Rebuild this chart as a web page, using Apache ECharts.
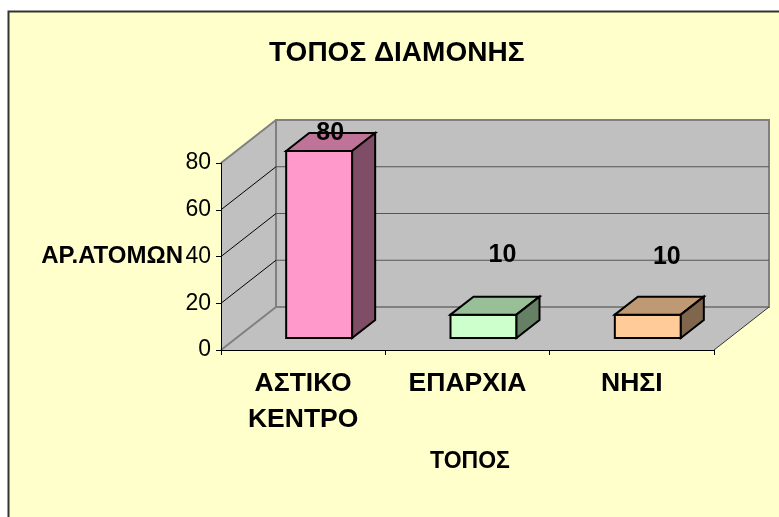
<!DOCTYPE html>
<html>
<head>
<meta charset="utf-8">
<style>
  html, body { margin: 0; padding: 0; background: #fff; }
  #chart { width: 779px; height: 517px; }
</style>
</head>
<body>
<div id="chart"></div>
<script src="https://cdn.jsdelivr.net/npm/echarts@6/dist/echarts.min.js"></script>
<script>
const categories = ['ΑΣΤΙΚΟ\nΚΕΝΤΡΟ', 'ΕΠΑΡΧΙΑ', 'ΝΗΣΙ']
const values = [80, 10, 10]
const yTicks = [0, 20, 40, 60, 80]

// front, top, side
const barColors = [
  ['#FF99CC', '#BF7399', '#804D66'],
  ['#CCFFCC', '#99BF99', '#668066'],
  ['#FFCC99', '#BF9973', '#80664D']
]
const labelNudge = [[11, -30], [19, -72], [19, -70]]

const font = 'Liberation Sans, Arial, sans-serif'
const wallDepth = [55, -43]
const barDepth = [23, -18]
const barLift = [16, -12]
const barHalf = 33

const chart = echarts.init(document.getElementById('chart'))

function poly(points, fill, stroke, lineWidth) {
  return {
    type: 'polygon',
    shape: { points },
    style: { fill: fill, stroke: stroke || 'none', lineWidth: lineWidth || 0 }
  }
}

function seg(x1, y1, x2, y2, stroke, lineWidth) {
  return {
    type: 'line',
    shape: { x1, y1, x2, y2 },
    style: { stroke, lineWidth }
  }
}

// walls and floor of the 3d box, only once for the first tick
function renderWalls(params, api) {
  const v = api.value(0)
  const rect = params.coordSys
  const left = rect.x
  const right = rect.x + rect.width
  const y = api.coord([0, v])[1]
  const dx = wallDepth[0]
  const dy = wallDepth[1]
  const children = []
  if (v === 0) {
    const top = rect.y
    const bottom = rect.y + rect.height
    children.push(poly([[left, bottom], [left + dx, bottom + dy], [right + dx, bottom + dy], [right, bottom]], '#C0C0C0'))
    children.push(poly([[left, top], [left + dx, top + dy], [left + dx, bottom + dy], [left, bottom]], '#C0C0C0'))
    children.push(poly([[left + dx, top + dy], [right + dx, top + dy], [right + dx, bottom + dy], [left + dx, bottom + dy]], '#C0C0C0', '#808080', 2))
    children.push(seg(right, bottom, right + dx, bottom + dy, '#333', 1))
  }
  const edge = v === 0 || v === yTicks[yTicks.length - 1]
  children.push(seg(left, y, left + dx, y + dy, edge ? '#808080' : '#000', edge ? 2 : 1))
  if (!edge) {
    children.push(seg(left + dx, y + dy, right + dx, y + dy, '#555', 1))
  }
  return { type: 'group', children }
}

function renderBar(params, api) {
  const i = api.value(0)
  const base = api.coord([i, 0])
  const head = api.coord([i, api.value(1)])
  const x0 = base[0] + barLift[0] - barHalf
  const x1 = base[0] + barLift[0] + barHalf
  const y0 = base[1] + barLift[1]
  const y1 = head[1] + barLift[1]
  const dx = barDepth[0]
  const dy = barDepth[1]
  const c = barColors[i]
  return {
    type: 'group',
    children: [
      poly([[x0, y1], [x1, y1], [x1, y0], [x0, y0]], c[0], '#000', 2),
      poly([[x0, y1], [x0 + dx, y1 + dy], [x1 + dx, y1 + dy], [x1, y1]], c[1], '#000', 2),
      poly([[x1, y1], [x1 + dx, y1 + dy], [x1 + dx, y0 + dy], [x1, y0]], c[2], '#000', 2),
      {
        type: 'text',
        x: base[0] + labelNudge[i][0] + barLift[0],
        y: head[1] + labelNudge[i][1],
        style: {
          text: String(api.value(1)),
          font: 'bold 25px ' + font,
          fill: '#000',
          align: 'center',
          verticalAlign: 'middle'
        }
      }
    ]
  }
}

chart.setOption({
  animation: false,
  backgroundColor: 'transparent',
  graphic: [
    {
      type: 'rect',
      z: -10,
      shape: { x: 8.5, y: 11.5, width: 800, height: 600 },
      style: { fill: '#FFFFCC', stroke: '#333', lineWidth: 2 }
    },
    {
      type: 'text',
      left: 269,
      top: 39,
      style: { text: 'ΤΟΠΟΣ ΔΙΑΜΟΝΗΣ', font: 'bold 28px ' + font, fill: '#000' }
    }
  ],
  grid: { left: 221, right: 65, top: 163, bottom: 167, outerBoundsMode: 'none' },
  xAxis: {
    type: 'category',
    data: categories,
    name: 'ΤΟΠΟΣ',
    nameLocation: 'middle',
    nameGap: 100,
    nameMoveOverlap: false,
    nameTextStyle: { fontFamily: font, fontWeight: 'bold', fontSize: 23, color: '#000', padding: [0, 0, 0, 5] },
    axisLine: { lineStyle: { color: '#000', width: 1 } },
    axisTick: { show: true, alignWithLabel: false, length: 5, lineStyle: { color: '#000' } },
    axisLabel: { fontFamily: font, fontWeight: 'bold', fontSize: 26.5, color: '#000', lineHeight: 36, margin: 16, interval: 0 }
  },
  yAxis: {
    type: 'value',
    min: 0,
    max: 80,
    interval: 20,
    name: 'ΑΡ.ΑΤΟΜΩΝ',
    nameLocation: 'middle',
    nameGap: 38,
    nameRotate: 0,
    nameMoveOverlap: false,
    nameTextStyle: { fontFamily: font, fontWeight: 'bold', fontSize: 24, color: '#000' },
    splitLine: { show: false },
    axisLine: { show: true, lineStyle: { color: '#000', width: 1 } },
    axisTick: { show: true, length: 5, lineStyle: { color: '#000' } },
    axisLabel: { fontFamily: font, fontSize: 23, color: '#000', margin: 10 }
  },
  series: [
    {
      type: 'custom',
      z: -1,
      silent: true,
      renderItem: renderWalls,
      encode: { y: 0 },
      data: yTicks.map(v => [v])
    },
    {
      type: 'custom',
      z: 3,
      renderItem: renderBar,
      encode: { x: 0, y: 1 },
      data: values.map((v, i) => [i, v])
    }
  ]
})
</script>
</body>
</html>
